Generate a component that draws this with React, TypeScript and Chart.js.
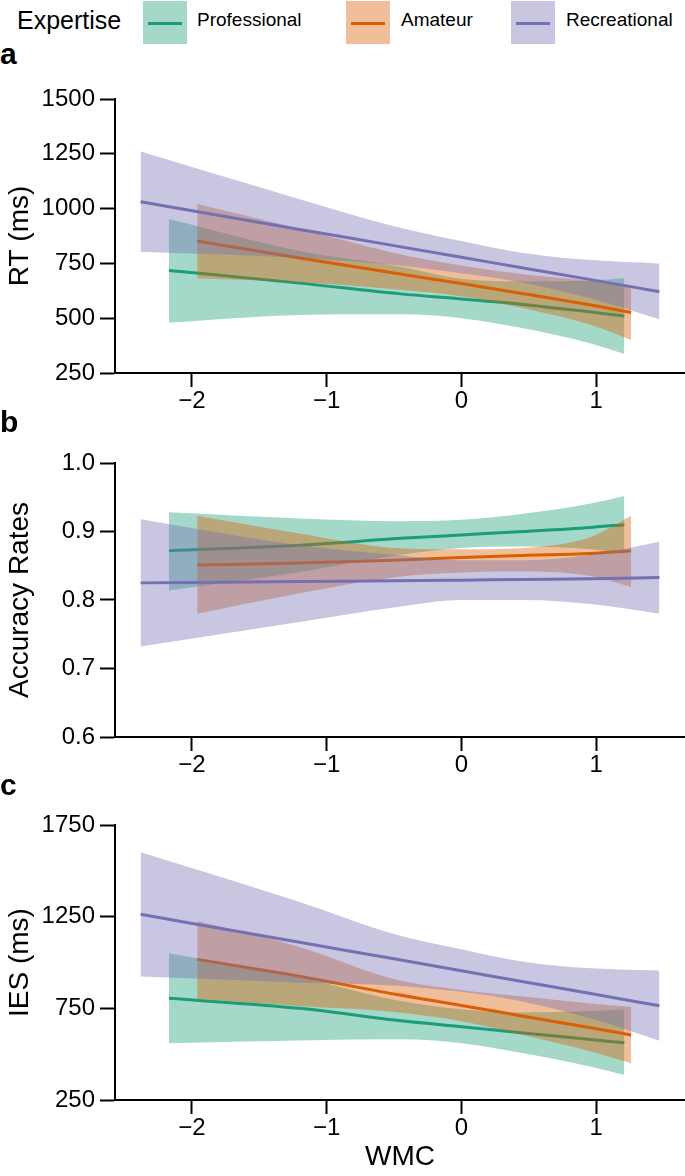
import React, { useEffect, useRef } from 'react';
import { Chart, registerables } from 'chart.js';

Chart.register(...registerables);
Chart.defaults.font.family = '"Liberation Sans", Arial, Helvetica, sans-serif';
Chart.defaults.color = '#000';

// ---------- Data ----------
const groups = ['Professional', 'Amateur', 'Recreational'];
const lineColors = ['#1b9e77', '#d95f02', '#7570b3'];
const bandColors = ['rgba(27,158,119,0.4)', 'rgba(217,95,2,0.4)', 'rgba(117,112,179,0.4)'];

const xTicks = [-2, -1, 0, 1];

// WMC sample positions for each group
const wmcPro = [-2.17, -1.2, -0.45, 0, 0.46, 0.96, 1.21];
const wmcAma = [-1.96, -1.2, -0.5, 0, 0.46, 0.96, 1.26];
const wmcRec = [-2.38, -1.2, -0.5, 0, 0.46, 0.96, 1.47];

// Panel a: RT (ms)
const rtTicks = [250, 500, 750, 1000, 1250, 1500];
const rtProMean = [718, 660, 611, 588, 563, 528, 510];
const rtProUpper = [952, 806, 735, 680, 668, 672, 682];
const rtProLower = [480, 515, 518, 500, 454, 385, 337];
const rtAmaMean = [852, 775, 706, 658, 612, 560, 526];
const rtAmaUpper = [1021, 908, 798, 740, 700, 670, 650];
const rtAmaLower = [682, 664, 632, 600, 545, 470, 401];
const rtRecMean = [1031, 905, 831, 778, 729, 676, 621];
const rtRecUpper = [1260, 1043, 920, 852, 797, 765, 750];
const rtRecLower = [803, 775, 743, 705, 662, 590, 495];

// Panel b: Accuracy Rates
const accTicks = [0.6, 0.7, 0.8, 0.9, 1.0];
const accProMean = [0.872, 0.88, 0.89, 0.895, 0.9, 0.906, 0.91];
const accProUpper = [0.928, 0.919, 0.915, 0.917, 0.926, 0.941, 0.952];
const accProLower = [0.814, 0.841, 0.866, 0.876, 0.878, 0.874, 0.868];
const accAmaMean = [0.851, 0.854, 0.858, 0.862, 0.865, 0.868, 0.872];
const accAmaUpper = [0.923, 0.897, 0.876, 0.874, 0.876, 0.892, 0.923];
const accAmaLower = [0.78, 0.81, 0.833, 0.84, 0.842, 0.835, 0.819];
const accRecMean = [0.825, 0.827, 0.828, 0.829, 0.83, 0.831, 0.833];
const accRecUpper = [0.918, 0.88, 0.866, 0.858, 0.858, 0.866, 0.885];
const accRecLower = [0.732, 0.768, 0.789, 0.8, 0.8, 0.794, 0.78];

// Panel c: IES (ms)
const iesTicks = [250, 750, 1250, 1750];
const iesProMean = [805, 750, 682, 650, 616, 580, 562];
const iesProUpper = [1050, 920, 790, 745, 727, 735, 745];
const iesProLower = [559, 575, 581, 560, 505, 432, 386];
const iesAmaMean = [1017, 925, 828, 766, 707, 644, 605];
const iesAmaUpper = [1226, 1085, 910, 850, 814, 777, 759];
const iesAmaLower = [801, 763, 730, 680, 605, 515, 450];
const iesRecMean = [1263, 1110, 1020, 955, 895, 831, 764];
const iesRecUpper = [1601, 1330, 1155, 1072, 1004, 968, 956];
const iesRecLower = [923, 890, 875, 840, 786, 694, 573];

type Series = { x: number[]; mean: number[]; lower: number[]; upper: number[] };

type PanelProps = {
  top: number;
  height: number;
  padTop: number;
  xAxisHeight: number;
  yTicks: number[];
  yTitle: string;
  yDecimals: number;
  xTitle?: string;
  series: Series[];
};

const fmtX = (v: number) => (v < 0 ? '\u2212' + Math.abs(v) : String(v));

function Panel(props: PanelProps) {
  const ref = useRef<HTMLCanvasElement | null>(null);
  useEffect(() => {
    const canvas = ref.current;
    if (!canvas) return;
    const datasets: any[] = [];
    props.series.forEach((s, g) => {
      const pts = (arr: number[]) => s.x.map((x, i) => ({ x, y: arr[i] }));
      const base = 9 - g * 3;
      datasets.push({
        label: groups[g] + ' upper',
        data: pts(s.upper),
        borderWidth: 0,
        borderColor: 'rgba(0,0,0,0)',
        pointRadius: 0,
        fill: false,
        cubicInterpolationMode: 'monotone',
        order: base,
      });
      datasets.push({
        label: groups[g] + ' lower',
        data: pts(s.lower),
        borderWidth: 0,
        borderColor: 'rgba(0,0,0,0)',
        backgroundColor: bandColors[g],
        pointRadius: 0,
        fill: '-1',
        cubicInterpolationMode: 'monotone',
        order: base - 1,
      });
      datasets.push({
        label: groups[g],
        data: pts(s.mean),
        borderWidth: 3,
        borderColor: lineColors[g],
        pointRadius: 0,
        fill: false,
        cubicInterpolationMode: 'monotone',
        order: base - 2,
      });
    });
    const yMin = props.yTicks[0];
    const yMax = props.yTicks[props.yTicks.length - 1];
    const chart = new Chart(canvas, {
      type: 'line',
      data: { datasets },
      options: {
        responsive: false,
        maintainAspectRatio: false,
        animation: false,
        events: [],
        layout: { padding: { top: props.padTop, left: 0, right: 0, bottom: 0 } },
        plugins: {
          legend: { display: false },
          tooltip: { enabled: false },
          filler: { drawTime: 'beforeDatasetDraw', propagate: false },
        } as any,
        scales: {
          x: {
            type: 'linear',
            min: -2.57,
            max: 1.66,
            afterBuildTicks: (s: any) => {
              s.ticks = xTicks.map((v) => ({ value: v }));
            },
            afterFit: (s: any) => {
              s.height = props.xAxisHeight;
            },
            ticks: {
              font: { size: 24 },
              color: '#000',
              padding: 0,
              maxRotation: 0,
              callback: (v: any) => fmtX(Number(v)),
            },
            grid: { drawOnChartArea: false, tickLength: 14, tickColor: '#000', tickWidth: 2 },
            border: { color: '#000', width: 2 },
            title: {
              display: !!props.xTitle,
              text: props.xTitle || '',
              font: { size: 28 },
              color: '#000',
              padding: { top: 0, bottom: 2 },
            },
          },
          y: {
            type: 'linear',
            min: yMin,
            max: yMax,
            afterBuildTicks: (s: any) => {
              s.ticks = props.yTicks.map((v) => ({ value: v }));
            },
            afterFit: (s: any) => {
              s.width = 115;
            },
            ticks: {
              font: { size: 24 },
              color: '#000',
              padding: 5,
              callback: (v: any) => Number(v).toFixed(props.yDecimals),
            },
            grid: { drawOnChartArea: false, tickLength: 15, tickColor: '#000', tickWidth: 2 },
            border: { color: '#000', width: 2 },
            title: {
              display: true,
              text: props.yTitle,
              font: { size: 28 },
              color: '#000',
              padding: { top: 3, bottom: 0 },
            },
          },
        },
      } as any,
    });
    return () => chart.destroy();
  }, []);
  return (
    <canvas
      ref={ref}
      width={685}
      height={props.height}
      style={{ position: 'absolute', left: 0, top: props.top, width: 685, height: props.height }}
    />
  );
}

const font = '"Liberation Sans", Arial, Helvetica, sans-serif';

function LegendItem({ left, textLeft, g }: { left: number; textLeft: number; g: number }) {
  return (
    <>
      <div style={{ position: 'absolute', left, top: 1, width: 44, height: 43, background: bandColors[g] }} />
      <div style={{ position: 'absolute', left: left + 5, top: 22, width: 34, height: 3, background: lineColors[g] }} />
      <div style={{ position: 'absolute', left: textLeft, top: 8, fontSize: 19, lineHeight: '24px', whiteSpace: 'nowrap' }}>
        {groups[g]}
      </div>
    </>
  );
}

const letterStyle = (top: number): React.CSSProperties => ({
  position: 'absolute',
  left: 0,
  top,
  fontSize: 30,
  lineHeight: '30px',
  fontWeight: 'bold',
});

export default function App() {
  return (
    <div
      style={{
        position: 'absolute',
        left: 0,
        top: 0,
        width: 685,
        height: 1176,
        background: '#fff',
        fontFamily: font,
        color: '#000',
        overflow: 'hidden',
      }}
    >
      <div style={{ position: 'absolute', left: 17, top: 6, fontSize: 25, lineHeight: '28px' }}>Expertise</div>
      <LegendItem left={143} textLeft={197} g={0} />
      <LegendItem left={346} textLeft={401} g={1} />
      <LegendItem left={511} textLeft={566} g={2} />

      <Panel
        top={70}
        height={350}
        padTop={29}
        xAxisHeight={47}
        yTicks={rtTicks}
        yTitle="RT (ms)"
        yDecimals={0}
        series={[
          { x: wmcPro, mean: rtProMean, lower: rtProLower, upper: rtProUpper },
          { x: wmcAma, mean: rtAmaMean, lower: rtAmaLower, upper: rtAmaUpper },
          { x: wmcRec, mean: rtRecMean, lower: rtRecLower, upper: rtRecUpper },
        ]}
      />
      <Panel
        top={440}
        height={340}
        padTop={23}
        xAxisHeight={43}
        yTicks={accTicks}
        yTitle="Accuracy Rates"
        yDecimals={1}
        series={[
          { x: wmcPro, mean: accProMean, lower: accProLower, upper: accProUpper },
          { x: wmcAma, mean: accAmaMean, lower: accAmaLower, upper: accAmaUpper },
          { x: wmcRec, mean: accRecMean, lower: accRecLower, upper: accRecUpper },
        ]}
      />
      <Panel
        top={800}
        height={376}
        padTop={25}
        xAxisHeight={76}
        yTicks={iesTicks}
        yTitle="IES (ms)"
        yDecimals={0}
        xTitle="WMC"
        series={[
          { x: wmcPro, mean: iesProMean, lower: iesProLower, upper: iesProUpper },
          { x: wmcAma, mean: iesAmaMean, lower: iesAmaLower, upper: iesAmaUpper },
          { x: wmcRec, mean: iesRecMean, lower: iesRecLower, upper: iesRecUpper },
        ]}
      />

      <div style={letterStyle(39)}>a</div>
      <div style={letterStyle(407)}>b</div>
      <div style={letterStyle(770)}>c</div>
    </div>
  );
}
